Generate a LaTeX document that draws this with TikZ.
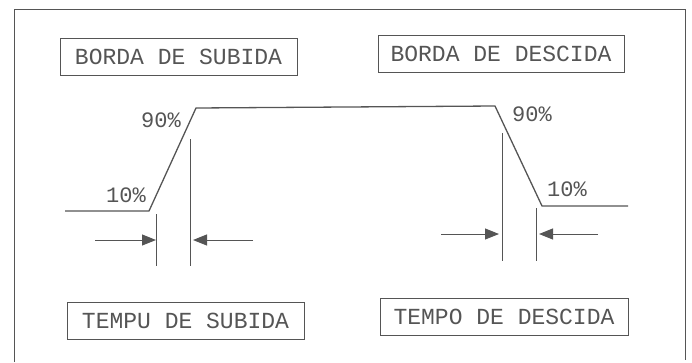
\documentclass[tikz,border=0pt]{standalone}
\usepackage{fontspec}
\setmonofont{Liberation Mono}
\usetikzlibrary{arrows.meta, positioning}
\definecolor{inkcolor}{RGB}{85, 85, 85}

\begin{document}
\begin{tikzpicture}[x=1pt, y=-1pt,
    edgebox/.style={draw=inkcolor, line width=1pt, text=inkcolor, font=\ttfamily\fontsize{23}{26}\selectfont, minimum height=37pt, inner sep=0pt, text centered},
    pct/.style={text=inkcolor, font=\ttfamily\fontsize{22}{24}\selectfont, inner sep=0pt},
    signal/.style={draw=inkcolor, line width=1.3pt},
    marker/.style={draw=inkcolor, line width=1pt},
    arrow/.style={-{Triangle[length=14pt, width=11pt]}, draw=inkcolor, line width=1pt}
]
\useasboundingbox (0,0) rectangle (692,362);

% Frame
\draw[marker] (14,362) -- (14,9) -- (685,9) -- (685,360);

% Titles
\node[edgebox, minimum width=237pt] (rise) at (178.5,57) {BORDA DE SUBIDA};
\node[edgebox, minimum width=246pt] (fall) at (501,54) {BORDA DE DESCIDA};
\node[edgebox, minimum width=237pt] (risetime) at (185.5,320.5) {TEMPU DE SUBIDA};
\node[edgebox, minimum width=248pt] (falltime) at (504,316.5) {TEMPO DE DESCIDA};

% Signal
\coordinate (start) at (65,211);
\coordinate (low1) at (149,211);
\coordinate (high1) at (196,108);
\coordinate (high2) at (495,106);
\coordinate (low2) at (542,206);
\coordinate (stop) at (628,206);
\draw[signal] (start) -- (low1) -- (high1) -- (high2) -- (low2) -- (stop);

% Levels
\node[pct, anchor=east] (rise90) at (181,120) {90\%};
\node[pct, anchor=east] (rise10) at (146,195) {10\%};
\node[pct, anchor=west] (fall90) at (512,114) {90\%};
\node[pct, anchor=west] (fall10) at (547,189) {10\%};

% Time markers
\coordinate (ra) at (156,214);
\coordinate (rb) at (156,266);
\coordinate (rc) at (190,139);
\coordinate (rd) at (190,266);
\coordinate (fa) at (502,133);
\coordinate (fb) at (502,261);
\coordinate (fc) at (536,208);
\coordinate (fd) at (536,261);
\draw[marker] (ra) -- (rb);
\draw[marker] (rc) -- (rd);
\draw[marker] (fa) -- (fb);
\draw[marker] (fc) -- (fd);

% Arrows
\coordinate (rl) at (95,240);
\coordinate (rr) at (253,240);
\coordinate (fl) at (441,234);
\coordinate (fr) at (598,234);
\draw[arrow] (rl) -- (ra |- rl);
\draw[arrow] (rr) -- ([xshift=3pt]rc |- rr);
\draw[arrow] (fl) -- ([xshift=-3pt]fa |- fl);
\draw[arrow] (fr) -- ([xshift=3pt]fc |- fr);

\end{tikzpicture}
\end{document}
